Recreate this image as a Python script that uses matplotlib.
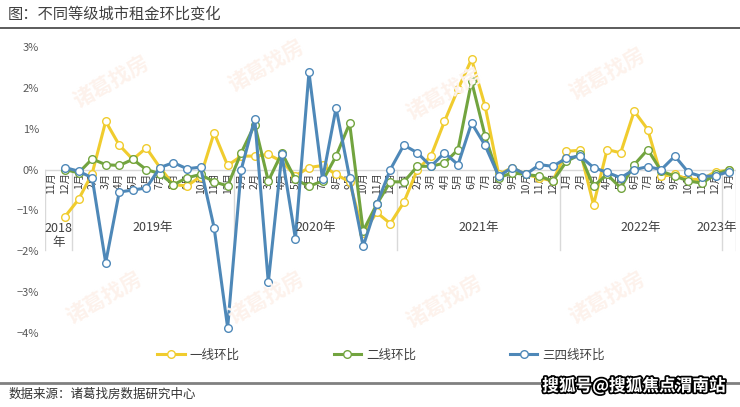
import numpy as np
import matplotlib.pyplot as plt
import matplotlib.patheffects as pe
from matplotlib.lines import Line2D

plt.rcParams['font.family'] = ['Noto Sans CJK SC', 'DejaVu Sans']

# months: 2018-11 .. 2023-01
months = [11, 12] + list(range(1, 13)) * 4 + [1]
years = ['2018\n年', '2019年', '2020年', '2021年', '2022年', '2023年']
year_counts = [2, 12, 12, 12, 12, 1]

nan = np.nan
tier1 = [nan, -1.15, -0.73, -0.10, 1.18, 0.60, 0.25, 0.53, 0.05, -0.37, -0.40, -0.17, 0.90, 0.10,
         0.33, 0.33, 0.37, 0.20, -0.15, 0.05, 0.10, -0.12, -0.30, -1.55, -1.05, -1.32,
         -0.80, 0.00, 0.33, 1.18, 1.97, 2.70, 1.55, -0.12, 0.05, -0.12, -0.20, -0.28,
         0.45, 0.47, -0.86, 0.49, 0.41, 1.43, 0.98, -0.16, -0.12, -0.24, -0.24, -0.05,
         -0.02]
tier2 = [nan, 0.00, -0.08, 0.26, 0.12, 0.10, 0.25, 0.00, -0.10, -0.37, -0.20, -0.12, -0.30, -0.40,
         0.41, 1.10, -0.28, 0.41, -0.24, -0.41, -0.28, 0.33, 1.13, -1.50, -0.85, -0.30,
         -0.30, 0.08, 0.08, 0.16, 0.49, 2.16, 0.82, -0.20, -0.08, -0.12, -0.16, -0.28,
         0.20, 0.37, -0.41, -0.12, -0.45, 0.12, 0.49, -0.04, -0.16, -0.28, -0.33, -0.12,
         0.00]
tier34 = [nan, 0.05, -0.04, -0.20, -2.28, -0.55, -0.50, -0.45, 0.05, 0.17, 0.02, 0.06, -1.42, -3.87,
          0.00, 1.24, -2.76, 0.37, -1.69, 2.38, -0.24, 1.51, -0.20, -1.88, -0.85, 0.00,
          0.60, 0.41, 0.08, 0.41, 0.12, 1.14, 0.59, -0.16, 0.05, -0.12, 0.12, 0.08,
          0.28, 0.33, 0.05, -0.07, -0.20, 0.00, 0.07, 0.00, 0.33, -0.07, -0.17, -0.15,
          -0.05]

series_names = ['一线环比', '二线环比', '三四线环比']
colors = ['#F0CC2E', '#72A43F', '#4E88B8']

yticks = [3, 2, 1, 0, -1, -2, -3, -4]
ytick_labels = ['3%', '2%', '1%', '0%', '−1%', '−2%', '−3%', '−4%']

fig = plt.figure(figsize=(7.4, 4.07), dpi=100)
ax = fig.add_axes([0.0604, 0.1818, 0.934, 0.7027])

x = np.arange(len(months))

# faint watermarks
for wx, wy in [(0.15, 0.80), (0.36, 0.84), (0.60, 0.77), (0.82, 0.82),
               (0.14, 0.27), (0.36, 0.27), (0.60, 0.26), (0.82, 0.27)]:
    fig.text(wx, wy, '诸葛找房', fontsize=15, color='#FDF2EC', rotation=30,
             ha='center', va='center', fontweight='bold', zorder=0)

ax.axhline(0, color='#D9D9D9', lw=1, zorder=1)
for vals, name, c in zip([tier1, tier2, tier34], series_names, colors):
    ax.plot(x, vals, color=c, lw=2.2, marker='o', ms=5.5, mfc='white',
            mec=c, mew=1, label=name, zorder=3)

# month labels
for i, m in enumerate(months):
    ax.text(i, -0.07, f'{m}月', rotation=90, ha='center', va='top',
            fontsize=7.5, color='#404040', zorder=2)

# year groups
start = 0
bounds = [-0.5]
for yl, n in zip(years, year_counts):
    center = start + (n - 1) / 2
    ypos = -1.61 if '\n' in yl else -1.42
    if n == 1:
        # last group is a single month at the right edge
        ax.text(len(months) - 0.45, ypos, yl, ha='right', va='center', fontsize=9,
                color='#404040', clip_on=False)
    else:
        ax.text(center, ypos, yl, ha='center', va='center', fontsize=9,
                color='#404040', linespacing=1.1, clip_on=False)
    start += n
    bounds.append(start - 0.5)
for b in bounds:
    ax.plot([b, b], [0, -1.98], color='#D9D9D9', lw=1, zorder=1)

ax.set_xlim(-0.5, len(months) - 0.5)
ax.set_ylim(-4, 3)
ax.set_xticks([])
ax.set_yticks(yticks)
ax.set_yticklabels(ytick_labels)
ax.tick_params(axis='y', length=0, pad=4, labelsize=8, labelcolor='#595959')
for s in ax.spines.values():
    s.set_visible(False)
ax.patch.set_alpha(0)

handles = [Line2D([], [], color=c, lw=2.2, marker='o', ms=5.5, mfc='white', mec=c, mew=1)
           for c in colors]
fig.legend(handles, series_names, loc='center', bbox_to_anchor=(0.515, 0.128), ncol=3,
           frameon=False, fontsize=9, handlelength=2.2, columnspacing=7.5,
           handletextpad=0.4, labelcolor='#404040')

fig.text(0.011, 0.966, '图：不同等级城市租金环比变化', fontsize=11, color='#404040',
         ha='left', va='center')
fig.add_artist(Line2D([0, 1], [0.931, 0.931], color='#404040', lw=1.2))
fig.add_artist(Line2D([0, 1], [0.059, 0.059], color='#808080', lw=2))
fig.text(0.011, 0.031, '数据来源：诸葛找房数据研究中心', fontsize=9, color='#333333',
         ha='left', va='center')
fig.text(0.98, 0.052, '搜狐号@搜狐焦点渭南站', fontsize=12, color='white',
         fontweight='bold', ha='right', va='center',
         path_effects=[pe.withStroke(linewidth=2.5, foreground='black')])

fig.savefig('out.png', dpi=100, facecolor='white')
